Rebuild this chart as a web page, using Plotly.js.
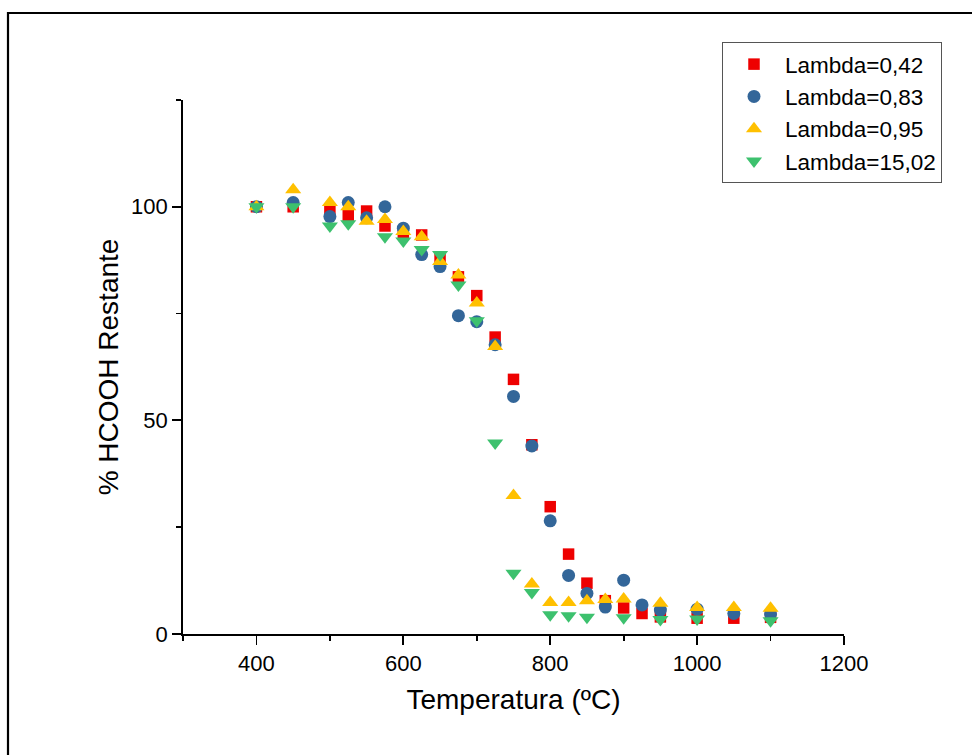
<!DOCTYPE html>
<html>
<head>
<meta charset="utf-8">
<script src="https://cdn.plot.ly/plotly-3.0.1.min.js"></script>
<style>
html,body{margin:0;padding:0;background:#fff;}
#chart{width:972px;height:755px;}
</style>
</head>
<body>
<div id="chart"></div>
<script>
// Series names
const seriesNames = ["Lambda=0,42", "Lambda=0,83", "Lambda=0,95", "Lambda=15,02"];

// Lambda=0,42
const tempA = [400,450,500,525,550,575,600,625,650,675,700,725,750,775,800,825,850,875,900,925,950,1000,1050,1100];
const valA  = [100,100,99,98,99,95.5,94,93.4,88,83.6,79.2,69.5,59.6,44.3,29.8,18.7,11.9,7.8,6.1,4.8,4.0,3.7,3.7,3.9];

// Lambda=0,83
const tempB = [400,450,500,525,550,575,600,625,650,675,700,725,750,775,800,825,850,875,900,925,950,1000,1050,1100];
const valB  = [100,101,97.7,101,97.4,100,95,88.8,86,74.5,73.1,67.7,55.6,44,26.5,13.7,9.5,6.3,12.6,6.8,5.6,5.8,4.8,4.7];

// Lambda=0,95
const tempC = [400,450,500,525,550,575,600,625,650,675,700,725,750,775,800,825,850,875,900,950,1000,1050,1100];
const valC  = [100,104,101,100,96.6,97,94.2,93,87.2,84,77.5,67.3,32.4,11.7,7.4,7.4,7.8,8.1,8.2,7.2,6.2,6.2,6.0];

// Lambda=15,02
const tempD = [400,450,500,525,575,600,625,650,675,700,725,750,775,800,825,850,900,950,1000,1100];
const valD  = [100,100,95.5,96,93,92,90,88.8,81.7,73.3,44.7,14.2,9.7,4.5,4.3,3.9,3.8,3.4,3.5,3.1];

const xTitle = "Temperatura (ºC)";
const yTitle = "% HCOOH Restante";

const FONT = "Arial, 'Liberation Sans', sans-serif";

const traces = [
  {x: tempA, y: valA, name: seriesNames[0], type: "scatter", mode: "markers",
   marker: {symbol: "square", size: 11.5, color: "#EE0000"}},
  {x: tempB, y: valB, name: seriesNames[1], type: "scatter", mode: "markers",
   marker: {symbol: "circle", size: 13, color: "#336699"}},
  {x: tempC, y: valC, name: seriesNames[2], type: "scatter", mode: "markers",
   marker: {symbol: "triangle-up", size: 14, color: "#FFC000"}},
  {x: tempD, y: valD, name: seriesNames[3], type: "scatter", mode: "markers",
   marker: {symbol: "triangle-down", size: 14, color: "#3DC16E"}}
];

const L = 183, R = 844, T = 100, B = 634;
const W = 972, H = 755;
const pw = R - L, ph = B - T;
const px = v => (v - L) / pw;
const py = v => (B - v) / ph;

const layout = {
  width: W, height: H,
  margin: {l: L, r: W - R, t: T, b: H - B, pad: 0},
  paper_bgcolor: "#fff",
  plot_bgcolor: "#fff",
  font: {family: FONT, color: "#000"},
  showlegend: true,
  xaxis: {
    range: [300, 1200],
    tick0: 0, dtick: 200,
    ticks: "outside", ticklen: 9, tickwidth: 1.8, tickcolor: "#000",
    showline: true, linewidth: 1.8, linecolor: "#000",
    showgrid: false, zeroline: false,
    tickfont: {size: 22, family: FONT, color: "#000"},
    minor: {dtick: 100, tick0: 0, ticks: "outside", ticklen: 5, tickwidth: 1.8, tickcolor: "#000", showgrid: false},
    title: {text: xTitle, font: {size: 28, family: FONT, color: "#000"}, standoff: 14}
  },
  yaxis: {
    range: [0, 124.99],
    tick0: 0, dtick: 50,
    ticks: "outside", ticklen: 9, tickwidth: 1.8, tickcolor: "#000",
    showline: true, linewidth: 1.8, linecolor: "#000",
    showgrid: false, zeroline: false,
    tickfont: {size: 22, family: FONT, color: "#000"},
    minor: {dtick: 25, tick0: 0, ticks: "outside", ticklen: 5, tickwidth: 1.8, tickcolor: "#000", showgrid: false},
    title: {text: yTitle, font: {size: 28, family: FONT, color: "#000"}, standoff: 4}
  },
  legend: {
    x: px(722), y: py(42), xanchor: "left", yanchor: "top",
    bgcolor: "#fff", bordercolor: "#555", borderwidth: 1,
    font: {size: 22.5, family: FONT, color: "#000"},
    itemwidth: 52, tracegroupgap: 0
  },
  shapes: [
    {type: "rect", xref: "paper", yref: "paper",
     x0: px(8), x1: px(1100), y0: py(900), y1: py(13),
     line: {color: "#000", width: 2.2}, fillcolor: "rgba(0,0,0,0)", layer: "below"}
  ]
};

Plotly.newPlot("chart", traces, layout, {displayModeBar: false, staticPlot: true});
</script>
</body>
</html>
